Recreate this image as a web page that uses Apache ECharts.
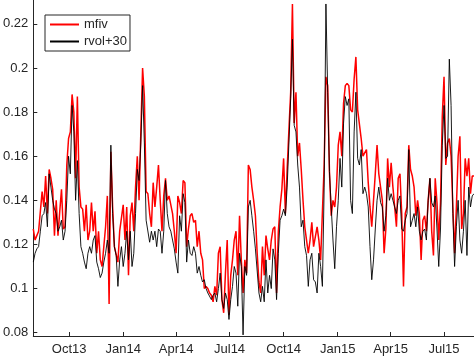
<!DOCTYPE html>
<html>
<head>
<meta charset="utf-8">
<script src="https://cdn.jsdelivr.net/npm/echarts@6/dist/echarts.min.js"></script>
<style>html,body{margin:0;padding:0;background:#fff}#c{width:474px;height:360px}</style>
</head>
<body>
<div id="c"></div>
<script>
// sampling: one value every 3 days starting 2013-08-01
var startDate = [2013, 7, 1];
var stepDays = 3;
var endDate = [2015, 7, 21];

var mfiv = [
0.127,0.122,0.124,0.126,0.135,0.144,0.137,0.151,0.134,0.154,
0.150,0.145,0.124,0.140,0.124,0.135,0.145,0.127,0.128,0.156,
0.168,0.171,0.188,0.180,0.150,0.187,0.146,0.137,0.136,0.126,
0.138,0.122,0.126,0.139,0.126,0.135,0.116,0.126,0.113,0.110,
0.119,0.128,0.142,0.093,0.162,0.137,0.119,0.119,0.112,0.126,
0.126,0.138,0.122,0.137,0.106,0.133,0.139,0.126,0.146,0.160,
0.140,0.171,0.200,0.187,0.144,0.143,0.134,0.128,0.148,0.137,
0.146,0.156,0.140,0.126,0.142,0.150,0.140,0.142,0.142,0.134,
0.126,0.116,0.142,0.139,0.134,0.149,0.148,0.119,0.127,0.133,
0.134,0.130,0.131,0.119,0.126,0.116,0.113,0.100,0.101,0.100,
0.098,0.097,0.094,0.101,0.097,0.116,0.119,0.095,0.089,0.107,
0.122,0.088,0.106,0.113,0.122,0.126,0.106,0.133,0.113,0.098,
0.113,0.107,0.156,0.154,0.146,0.140,0.133,0.116,0.103,0.098,
0.119,0.106,0.124,0.118,0.113,0.122,0.127,0.128,0.098,0.126,
0.137,0.145,0.159,0.134,0.154,0.172,0.189,0.229,0.175,0.189,
0.160,0.166,0.154,0.140,0.128,0.122,0.116,0.122,0.130,0.119,
0.119,0.128,0.122,0.113,0.113,0.156,0.196,0.192,0.153,0.133,
0.140,0.137,0.146,0.165,0.171,0.160,0.184,0.192,0.193,0.192,
0.181,0.180,0.195,0.205,0.181,0.181,0.168,0.160,0.160,0.163,
0.148,0.137,0.128,0.140,0.152,0.165,0.152,0.152,0.140,0.116,
0.127,0.159,0.146,0.157,0.146,0.137,0.128,0.150,0.152,0.134,
0.101,0.134,0.137,0.165,0.154,0.151,0.146,0.133,0.140,0.134,
0.113,0.131,0.133,0.126,0.140,0.150,0.126,0.115,0.150,0.139,
0.122,0.139,0.178,0.196,0.156,0.166,0.168,0.160,0.137,0.116,
0.137,0.160,0.169,0.127,0.134,0.159,0.151,0.159,0.143,0.151,
0.151
];

var rvol30 = [
0.112,0.116,0.118,0.119,0.126,0.133,0.134,0.139,0.128,0.152,
0.146,0.140,0.136,0.134,0.126,0.128,0.131,0.122,0.126,0.140,
0.160,0.152,0.183,0.171,0.140,0.158,0.134,0.119,0.116,0.112,
0.109,0.116,0.119,0.116,0.122,0.124,0.112,0.109,0.105,0.107,
0.112,0.116,0.122,0.116,0.165,0.134,0.119,0.115,0.101,0.113,
0.119,0.110,0.116,0.126,0.113,0.126,0.110,0.116,0.134,0.154,
0.149,0.166,0.192,0.166,0.131,0.131,0.121,0.126,0.122,0.126,
0.119,0.127,0.126,0.116,0.126,0.149,0.134,0.128,0.126,0.122,
0.118,0.112,0.107,0.133,0.126,0.143,0.139,0.112,0.122,0.116,
0.115,0.119,0.116,0.107,0.110,0.106,0.103,0.104,0.100,0.098,
0.098,0.095,0.097,0.098,0.094,0.100,0.107,0.095,0.091,0.098,
0.095,0.086,0.095,0.101,0.110,0.107,0.092,0.116,0.110,0.079,
0.110,0.106,0.137,0.140,0.133,0.126,0.118,0.118,0.098,0.094,
0.101,0.094,0.113,0.098,0.106,0.100,0.118,0.113,0.095,0.116,
0.131,0.133,0.136,0.133,0.146,0.166,0.186,0.213,0.174,0.171,
0.156,0.146,0.128,0.131,0.119,0.115,0.101,0.113,0.116,0.104,
0.103,0.098,0.116,0.110,0.101,0.146,0.229,0.189,0.153,0.137,
0.122,0.109,0.128,0.140,0.159,0.146,0.175,0.187,0.183,0.186,
0.140,0.134,0.171,0.189,0.159,0.156,0.163,0.143,0.146,0.143,
0.137,0.119,0.104,0.113,0.127,0.140,0.146,0.139,0.137,0.126,
0.133,0.150,0.140,0.143,0.140,0.137,0.134,0.140,0.142,0.127,
0.126,0.131,0.134,0.163,0.128,0.131,0.134,0.128,0.137,0.126,
0.122,0.126,0.127,0.122,0.140,0.150,0.139,0.137,0.142,0.127,
0.110,0.127,0.165,0.183,0.159,0.160,0.204,0.183,0.134,0.110,
0.128,0.140,0.122,0.116,0.126,0.140,0.115,0.146,0.137,0.142,
0.143
];

var xTickLabels = ['Oct13','Jan14','Apr14','Jul14','Oct14','Jan15','Apr15','Jul15'];
var xTickDates = [[2013,9,1],[2014,0,1],[2014,3,1],[2014,6,1],[2014,9,1],[2015,0,1],[2015,3,1],[2015,6,1]];
var yTicks = [0.08, 0.1, 0.12, 0.14, 0.16, 0.18, 0.2, 0.22];

// x axis in days since startDate
function dayOf(d){
  return Math.round((Date.UTC(d[0], d[1], d[2]) - Date.UTC(startDate[0], startDate[1], startDate[2])) / 86400000);
}
function pairs(arr){
  return arr.map(function(v, i){ return [i * stepDays, v]; });
}
var tickDays = xTickDates.map(dayOf);

var axisColor = '#262626';
var font = '"Liberation Sans", Arial, Helvetica, sans-serif';

var chart = echarts.init(document.getElementById('c'), null, {renderer: 'canvas'});
chart.setOption({
  animation: false,
  backgroundColor: '#fff',
  grid: {left: 32, right: 0, top: 0, bottom: 24, containLabel: false},
  legend: {
    orient: 'vertical',
    left: 45, top: 15,
    padding: [3, 3, 3, 4],
    itemGap: 4,
    itemWidth: 29, itemHeight: 14,
    borderColor: axisColor, borderWidth: 1,
    backgroundColor: '#fff',
    textStyle: {fontFamily: font, fontSize: 13, color: axisColor},
    itemStyle: {opacity: 0},
    data: ['mfiv', 'rvol+30']
  },
  xAxis: {
    type: 'value',
    min: 0, max: dayOf(endDate),
    axisLine: {show: true, onZero: false, lineStyle: {color: axisColor, width: 1}},
    axisTick: {show: true, inside: true, length: 4, lineStyle: {color: axisColor}, customValues: tickDays},
    axisLabel: {
      customValues: tickDays,
      margin: 7,
      fontFamily: font, fontSize: 13, color: axisColor,
      formatter: function(v){
        var k = tickDays.indexOf(Math.round(v));
        return k >= 0 ? xTickLabels[k] : '';
      }
    },
    splitLine: {show: false}
  },
  yAxis: {
    type: 'value',
    min: 0.0785, max: 0.2308,
    axisLine: {show: true, onZero: false, lineStyle: {color: axisColor, width: 1}},
    axisTick: {show: true, inside: true, length: 4, lineStyle: {color: axisColor}, customValues: yTicks},
    axisLabel: {
      customValues: yTicks,
      margin: 5,
      fontFamily: font, fontSize: 13, color: axisColor,
      formatter: function(v){ return String(+(+v).toFixed(4)); }
    },
    splitLine: {show: false}
  },
  series: [
    {
      name: 'mfiv', type: 'line', data: pairs(mfiv),
      symbol: 'none', smooth: false,
      lineStyle: {color: '#ff0000', width: 1.5},
      itemStyle: {color: '#ff0000'},
      z: 2
    },
    {
      name: 'rvol+30', type: 'line', data: pairs(rvol30),
      symbol: 'none', smooth: false,
      lineStyle: {color: '#000000', width: 0.9},
      itemStyle: {color: '#000000'},
      z: 3
    }
  ]
});
</script>
</body>
</html>
